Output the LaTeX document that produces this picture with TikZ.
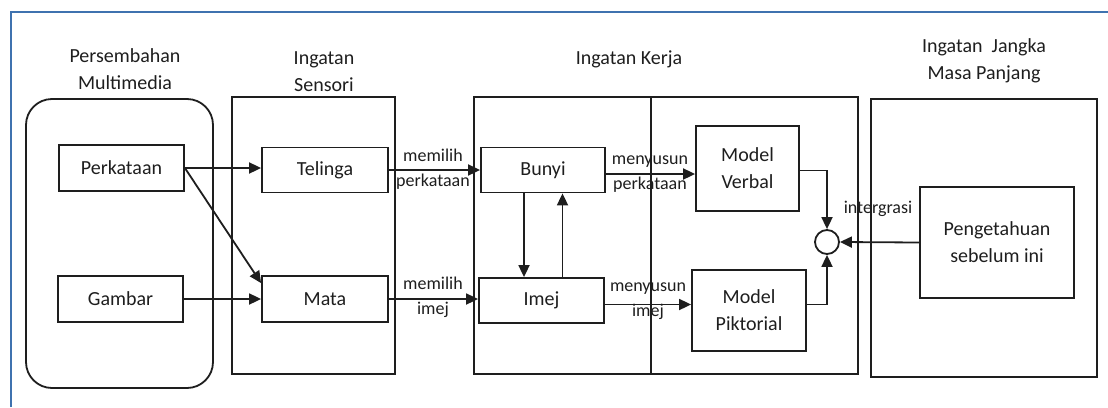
\documentclass[tikz,border=0pt]{standalone}
\usepackage{fontspec}
\setmainfont{Carlito}
\usetikzlibrary{arrows.meta}
\definecolor{frameblue}{HTML}{3F72AF}
\definecolor{ink}{HTML}{1E1E1E}
\tikzset{
  box/.style={draw=ink, line width=1.8pt, rectangle, align=center, text=ink,
    font=\fontsize{20}{27}\selectfont, inner sep=0pt},
  grp/.style={draw=ink, line width=1.8pt},
  title/.style={align=center, text=ink, font=\fontsize{20}{27}\selectfont, inner sep=0pt},
  lbl/.style={align=center, text=ink, font=\fontsize{18}{25}\selectfont, inner sep=0pt},
  arr/.style={draw=ink, line width=1.8pt, -{Triangle[length=12pt,width=11pt]}},
}
\begin{document}
\begin{tikzpicture}[x=1pt,y=-1pt]
\useasboundingbox (0,0) rectangle (1108,407);
% frame
\draw[frameblue, line width=1.2pt] (11,407) -- (11,12) -- (1108,12);
% group boxes
\draw[grp, rounded corners=26pt] (26,99) rectangle (213,388);
\draw[grp] (232,97) rectangle (395,374);
\draw[grp] (474,97) rectangle (858,374);
\draw[grp] (651,97) -- (651,374);
\draw[grp] (871,99) rectangle (1097,377);
% titles
\node[title] (tMM) at (125,69) {Persembahan\\Multimedia};
\node[title] (tIS) at (324,72) {Ingatan\\Sensori};
\node[title] (tIK) at (629,59) {Ingatan Kerja};
\node[title] (tIJ) at (984,61) {Ingatan~ Jangka\\Masa Panjang};
% boxes
\node[box, minimum width=125pt, minimum height=46pt] (perk) at (121.5,168) {Perkataan};
\node[box, minimum width=125pt, minimum height=46pt] (gamb) at (120.5,299) {Gambar};
\node[box, minimum width=126pt, minimum height=45pt] (tel) at (325,170) {Telinga};
\node[box, minimum width=126pt, minimum height=46pt] (mata) at (325,299) {Mata};
\node[box, minimum width=124pt, minimum height=45pt] (buny) at (543,170) {Bunyi};
\node[box, minimum width=125pt, minimum height=45pt] (imej) at (541.5,300.5) {Imej};
\node[box, minimum width=103pt, minimum height=85pt] (verb) at (747.5,168.5) {Model\\Verbal};
\node[box, minimum width=114pt, minimum height=81pt] (pikt) at (749,310.5) {Model\\Piktorial};
\node[box, minimum width=154pt, minimum height=111pt] (peng) at (997,242.5) {Pengetahuan\\sebelum ini};
\node[draw=ink, line width=1.8pt, circle, minimum size=24pt, inner sep=0pt] (int) at (827,242) {};
% helper coordinates
\coordinate (bE) at ([yshift=-4pt]buny.east);
\coordinate (iE) at ([yshift=-4pt]imej.east);
\coordinate (bS) at ([xshift=-19pt]buny.south);
\coordinate (iN) at ([xshift=21pt]imej.north);
\coordinate (vE) at ([yshift=-2pt]verb.east);
\coordinate (pE) at ([yshift=6pt]pikt.east);
\coordinate (mNW) at ([yshift=-8pt]mata.north west);
% connectors
\draw[arr] (perk.east) -- (tel.west |- perk.east);
\draw[arr] (perk.east) -- (mNW);
\draw[arr] (gamb.east) -- (mata.west |- gamb.east);
\draw[arr] (tel.east) -- (buny.west);
\draw[arr] (mata.east) -- (imej.west |- mata.east);
\draw[arr] (bE) -- (verb.west |- bE);
\draw[arr] (iE) -- (pikt.west |- iE);
\draw[arr] (bS) -- (bS |- imej.north);
\draw[arr] (iN) -- (iN |- buny.south);
\draw[arr] (vE) -| (int.north);
\draw[arr] (pE) -| (int.south);
\draw[arr] (peng.west) -- (int.east);
% labels
\node[lbl] (l1) at (433,169) {memilih\\perkataan};
\node[lbl] (l2) at (433,297) {memilih\\imej};
\node[lbl] (l3) at (650,174) {menyusun\\perkataan};
\node[lbl] (l4) at (648,301) {menyusun\\imej};
\node[lbl] (l5) at (878,209) {intergrasi};
\end{tikzpicture}
\end{document}
